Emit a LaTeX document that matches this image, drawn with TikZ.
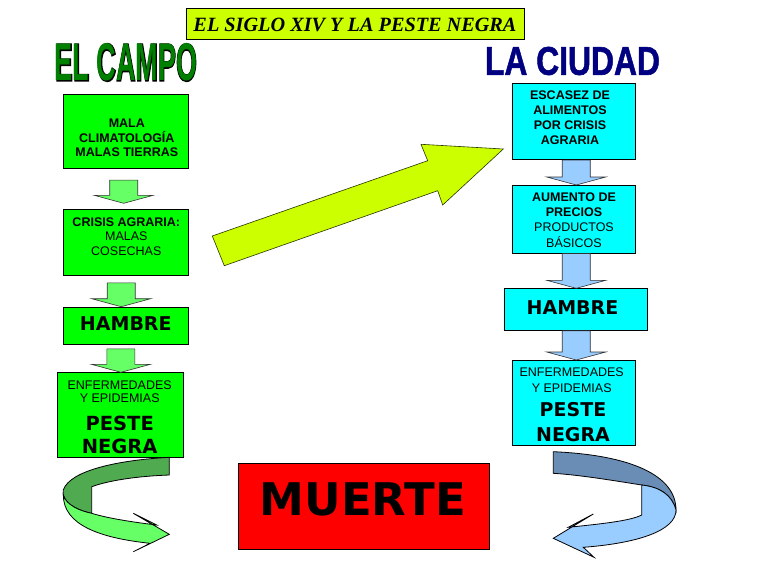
\documentclass[tikz,border=0pt]{standalone}
\usepackage{fontspec}
\setmainfont{Liberation Sans}
\newfontfamily\comicf{DejaVu Sans}
\newfontfamily\titlef{Liberation Serif}
\newfontfamily\heavyf{Liberation Sans}[BoldFeatures={FakeBold=1.5}]
\newfontfamily\outlf{Liberation Sans}[BoldFeatures={FakeBold=3.5}]
\usetikzlibrary{calc}
\definecolor{ygreen}{HTML}{CCFF00}
\definecolor{bgreen}{HTML}{00FF00}
\definecolor{lgreen}{HTML}{66FF66}
\definecolor{dgreen}{HTML}{50AA50}
\definecolor{bcyan}{HTML}{00FFFF}
\definecolor{lblue}{HTML}{99CCFF}
\definecolor{dblue}{HTML}{6A8DB6}
\definecolor{campo}{HTML}{008000}
\definecolor{ciudad}{HTML}{000080}
\newcommand\boxat[6]{\node[boxst, fill=#6, minimum width={#4-#2}, minimum height={#5-#3}] (#1) at (#2,#3) {};}
% from, to, dx, fill, topgap, tipgap
\newcommand\blockarrow[6]{%
  \filldraw[arrst, fill=#4]
    ($(#1.south -| #2.north)+(#3-14,#5)$) -- ($(#1.south -| #2.north)+(#3+14,#5)$)
    -- ($(#2.north)+(#3+14,-#6-8)$) -- ($(#2.north)+(#3+29.5,-#6-8)$)
    -- ($(#2.north)+(#3,-#6)$)
    -- ($(#2.north)+(#3-29.5,-#6-8)$) -- ($(#2.north)+(#3-14,-#6-8)$) -- cycle;}
\begin{document}
\begin{tikzpicture}[x=1pt,y=-1pt,
  boxst/.style={draw=black, line width=0.8pt, inner sep=0pt, anchor=north west, rectangle},
  arrst/.style={draw=black!80, line width=0.6pt, line join=miter},
  curvst/.style={draw=black, line width=0.8pt, line join=miter},
  txt/.style={inner sep=0pt, align=center, text=black, font=\fontsize{12.5}{14.5}\selectfont},
  btxt/.style={txt, font=\fontsize{12.5}{14.5}\selectfont\bfseries},
  comic/.style={inner sep=0pt, align=center, text=black, font=\comicf\fontsize{19}{24}\selectfont\bfseries}]
\useasboundingbox (0,0) rectangle (768,576);
\fill[white] (0,0) rectangle (768,576);

% title
\boxat{title}{186}{8.3}{524.3}{39.3}{ygreen}
\node[inner sep=0pt] (titletext) at (355,25) {\resizebox{323pt}{!}{\titlef\bfseries\itshape EL SIGLO XIV Y LA PESTE NEGRA}};
\node[inner sep=0pt, text=black] (campoo) at (126,62.5) {\resizebox{142pt}{37pt}{\outlf\bfseries EL CAMPO}};
\node[inner sep=0pt, text=campo] (campo) at (126,62.5) {\resizebox{142pt}{37pt}{\bfseries EL CAMPO}};
\node[inner sep=0pt, text=ciudad] (ciudad) at (572.5,61) {\resizebox{175pt}{28pt}{\heavyf\bfseries LA CIUDAD}};

% big arrow
\filldraw[arrst, fill=ygreen, draw=black!80!ygreen] (212.3,236) -- (427.7,160.7) -- (421,144.3) -- (503.3,149) -- (442.7,205) -- (437.7,190.7) -- (224.3,265.7) -- cycle;

% left column
\boxat{L1}{63.3}{94.3}{188.3}{168.3}{bgreen}
\boxat{L2}{63.3}{209.3}{188.3}{275}{bgreen}
\boxat{L3}{63.3}{306.7}{188.3}{344}{bgreen}
\boxat{L4}{57.3}{372.3}{182.7}{457.3}{bgreen}
\node[btxt] (L1t) at (126.8,138) {MALA\\CLIMATOLOGÍA\\MALAS TIERRAS};
\node[txt] (L2t) at (126.3,236.5) {\bfseries CRISIS AGRARIA:\\MALAS\\COSECHAS};
\node[comic] (L3t) at (125.8,323.3) {HAMBRE};
\node[txt, font=\fontsize{12.5}{13.5}\selectfont] (L4a) at (119.7,391.5) {ENFERMEDADES\\Y EPIDEMIAS};
\node[comic, font=\comicf\fontsize{19.5}{23.7}\selectfont\bfseries] (L4b) at (119.7,435) {PESTE\\NEGRA};
\blockarrow{L1}{L2}{-2.5}{lgreen}{11}{6}
\blockarrow{L2}{L3}{-5}{lgreen}{7}{0}
\blockarrow{L3}{L4}{0.5}{lgreen}{4}{0}

% right column
\boxat{R1}{511.7}{82.7}{635}{159.3}{bcyan}
\boxat{R2}{511.7}{185}{635}{252.7}{bcyan}
\boxat{R3}{504}{288.3}{646.7}{330}{bcyan}
\boxat{R4}{511.7}{360}{635}{445}{bcyan}
\node[btxt, font=\fontsize{12.5}{15}\selectfont\bfseries] (R1t) at (570,117.5) {ESCASEZ DE\\ALIMENTOS\\POR CRISIS\\AGRARIA};
\node[txt, font=\fontsize{12.5}{15.3}\selectfont] (R2t) at (574,220) {{\bfseries AUMENTO DE}\\{\bfseries PRECIOS}\\PRODUCTOS\\BÁSICOS};
\node[comic] (R3t) at (572.5,307.5) {HAMBRE};
\node[txt, font=\fontsize{12.5}{16}\selectfont] (R4a) at (571.7,380.3) {ENFERMEDADES\\Y EPIDEMIAS};
\node[comic, font=\comicf\fontsize{19}{25}\selectfont\bfseries] (R4b) at (573,422.5) {PESTE\\NEGRA};
\blockarrow{R1}{R2}{2.5}{lblue}{0}{0}
\blockarrow{R2}{R3}{0.5}{lblue}{0}{0}
\blockarrow{R3}{R4}{2.5}{lblue}{0}{0}

% muerte
\boxat{muerte}{238.3}{463.3}{489}{549}{red}
\node[inner sep=0pt, font=\comicf\fontsize{45}{50}\selectfont\bfseries] (muertet) at (363,499) {MUERTE};

% left curved arrow
\filldraw[curvst, fill=dgreen] (169.3,457.3) .. controls (120,460) and (70,470) .. (63.3,490) -- (63.3,495)
  .. controls (66,505) and (80,511) .. (91.7,513.3) -- (91.7,486.7)
  .. controls (110,480) and (140,476) .. (169.3,475) -- cycle;
\filldraw[curvst, fill=lgreen] (91.7,513.3) .. controls (110,519) and (140,523) .. (156.7,525)
  -- (133.3,513.3) -- (169.3,534.3) -- (133.3,551.7) -- (150,543.3)
  .. controls (100,538) and (63.3,525) .. (63.3,495)
  .. controls (66,505) and (80,511) .. (91.7,513.3) -- cycle;

% right curved arrow
\filldraw[curvst, fill=dblue] (553.3,451.7) .. controls (630,455) and (676,475) .. (676,510)
  .. controls (672,495) and (660,487) .. (641.7,485)
  .. controls (610,480) and (580,475) .. (553.3,473.3) -- cycle;
\filldraw[curvst, fill=lblue] (641.7,485) .. controls (660,487) and (672,495) .. (676,510)
  .. controls (676,530) and (640,543) .. (583.3,547.3) -- (594,557.3) -- (553.3,538.3)
  -- (593.3,514) -- (568.3,527.3) .. controls (600,524) and (630,521) .. (641.7,515) -- cycle;
\end{tikzpicture}
\end{document}
